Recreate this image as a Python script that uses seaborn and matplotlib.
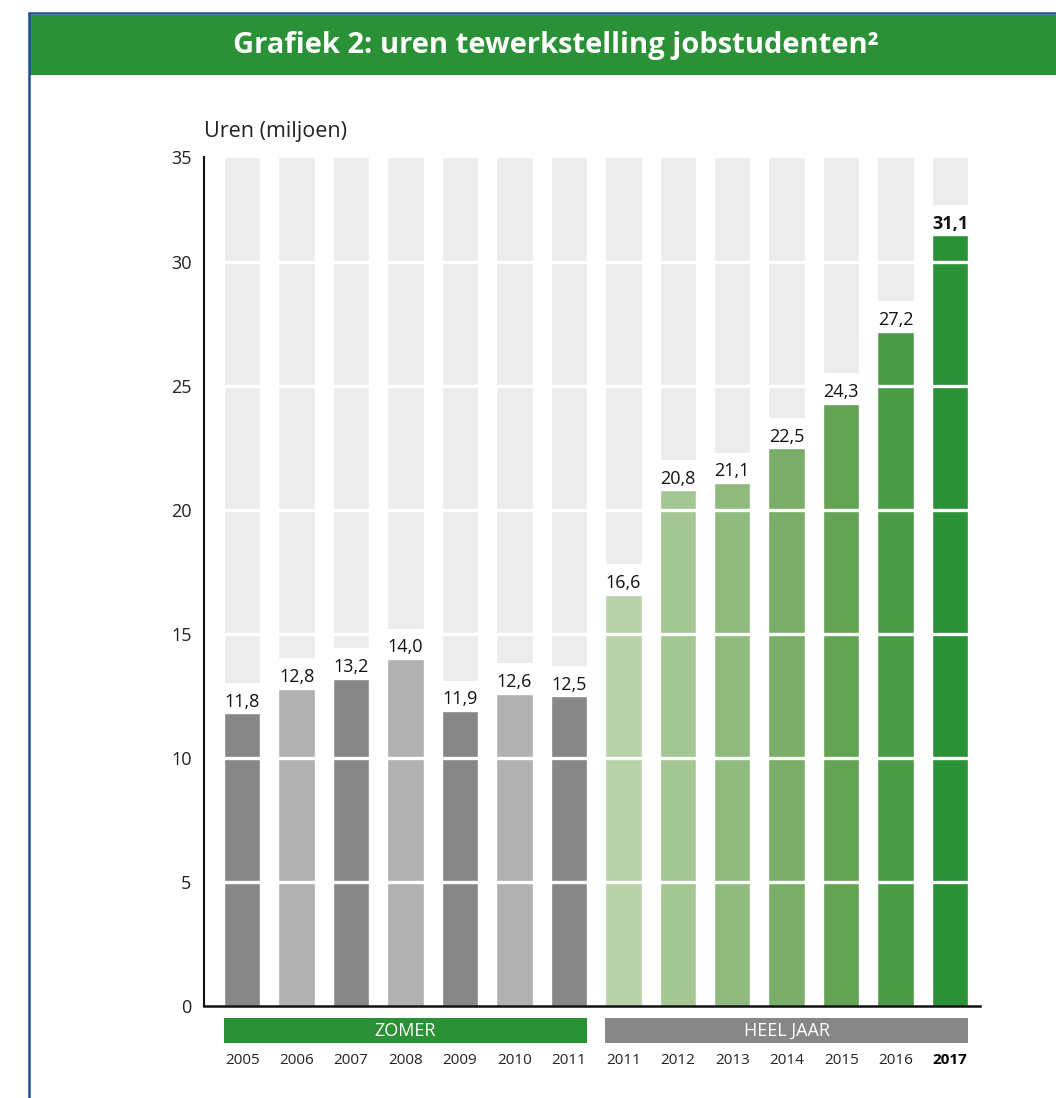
import matplotlib
matplotlib.use("Agg")
import matplotlib.pyplot as plt
import seaborn as sns
import pandas as pd
from matplotlib.patches import Rectangle
from matplotlib.lines import Line2D
from matplotlib.transforms import blended_transform_factory

# ---- data ----
years = ["2005", "2006", "2007", "2008", "2009", "2010", "2011",
         "2011", "2012", "2013", "2014", "2015", "2016", "2017"]
groups = ["ZOMER"] * 7 + ["HEEL JAAR"] * 7
values = [11.8, 12.8, 13.2, 14.0, 11.9, 12.6, 12.5,
          16.6, 20.8, 21.1, 22.5, 24.3, 27.2, 31.1]
value_labels = ["11,8", "12,8", "13,2", "14,0", "11,9", "12,6", "12,5",
                "16,6", "20,8", "21,1", "22,5", "24,3", "27,2", "31,1"]
bar_colors = ["#878787", "#b1b1b1", "#878787", "#b1b1b1", "#878787", "#b1b1b1", "#878787",
              "#b8d2aa", "#a4c692", "#90ba7e", "#7bae69", "#64a353", "#4b9a45", "#2a9136"]
# the original chart's axis ends slightly below 35 but is labelled "35" at its top
axis_top = 34.25
y_ticks = [0, 5, 10, 15, 20, 25, 30, axis_top]
y_tick_labels = ["0", "5", "10", "15", "20", "25", "30", "35"]
title = "Grafiek 2: uren tewerkstelling jobstudenten²"
ylabel = "Uren (miljoen)"

keys = [f"{g}-{y}" for g, y in zip(groups, years)]
df = pd.DataFrame({"key": keys, "value": values, "bg": [axis_top] * len(keys)})

sns.set_theme(style="white")
plt.rcParams["font.family"] = ["Open Sans", "DejaVu Sans"]

fig = plt.figure(figsize=(10.56, 10.98), dpi=100)
ax = fig.add_axes([204 / 1056, 92 / 1098, (980 - 204) / 1056, (1006 - 157) / 1098])

# background bars
sns.barplot(data=df, x="key", y="bg", order=keys, color="#ececec", width=0.67,
            ax=ax, zorder=1, saturation=1)
# value bars
sns.barplot(data=df, x="key", y="value", hue="key", order=keys, hue_order=keys,
            palette=bar_colors, width=0.67, ax=ax, legend=False, zorder=2,
            saturation=1, dodge=False)

ax.set_xlim(-0.7, 13.55)
ax.set_ylim(0, axis_top)

# white gridlines over bars
for t in y_ticks[1:-1]:
    ax.axhline(t, color="white", lw=2.4, zorder=2.5)

# value labels: white knockout box (behind bars) + text on top
for i, (v, lab) in enumerate(zip(values, value_labels)):
    weight = "bold" if i == len(values) - 1 else "normal"
    ax.annotate(lab, (i, v), xytext=(0, 4.7), textcoords="offset points",
                ha="center", va="baseline", fontsize=13, fontweight=weight,
                color="none", zorder=1.5,
                bbox=dict(boxstyle="square,pad=0.55", fc="white", ec="none"))
    ax.annotate(lab, (i, v), xytext=(0, 4.7), textcoords="offset points",
                ha="center", va="baseline", fontsize=13, fontweight=weight,
                color="#111111", zorder=3)

# axes styling
for s in ["top", "right"]:
    ax.spines[s].set_visible(False)
ax.spines["left"].set_color("#111111")
ax.spines["left"].set_linewidth(1.5)
ax.spines["bottom"].set_color("#111111")
ax.spines["bottom"].set_linewidth(1.8)
ax.set_yticks(y_ticks)
ax.set_yticklabels(y_tick_labels)
ax.tick_params(axis="y", length=0, pad=9, labelsize=13, labelcolor="#222222")
ax.set_xticks(range(len(years)))
ax.set_xticklabels(years)
ax.tick_params(axis="x", length=0, pad=33.5, labelsize=11, labelcolor="#222222")
ax.get_xticklabels()[-1].set_fontweight("bold")
ax.get_xticklabels()[-1].set_color("#000000")
ax.set_xlabel("")
ax.set_ylabel("")

ax.text(0.0, 1 + (157 - 132) / 849, ylabel, transform=ax.transAxes,
        ha="left", va="center", fontsize=15.5, color="#222222")

# category bands
tr = blended_transform_factory(ax.transData, ax.transAxes)
band_y0 = -(1043 - 1006) / 849
band_h = (1043 - 1018) / 849
for (x0, x1, lab, col) in [(-0.335, 6.335, "ZOMER", "#2a9136"),
                           (6.665, 13.335, "HEEL JAAR", "#878787")]:
    ax.add_patch(Rectangle((x0, band_y0), x1 - x0, band_h, transform=tr,
                           facecolor=col, edgecolor="none", clip_on=False))
    ax.text((x0 + x1) / 2, band_y0 + band_h / 2, lab, transform=tr,
            ha="center", va="center", color="white", fontsize=13)

# title band & frame
fig.patches.append(Rectangle((30 / 1056, (1098 - 75) / 1098), 1 - 30 / 1056, 60 / 1098,
                             transform=fig.transFigure, facecolor="#2a9136",
                             edgecolor="none", zorder=0))
fig.text(556 / 1056, 1 - 45 / 1098, title, ha="center", va="center",
         color="white", fontsize=21, fontweight="bold")
fig.lines.append(Line2D([29 / 1056, 1], [1 - 13 / 1098, 1 - 13 / 1098],
                        transform=fig.transFigure, color="#1f4e96", lw=1.8))
fig.lines.append(Line2D([29 / 1056, 29 / 1056], [0, 1 - 13 / 1098],
                        transform=fig.transFigure, color="#1f4e96", lw=1.8))

fig.savefig("out.png", dpi=100)
